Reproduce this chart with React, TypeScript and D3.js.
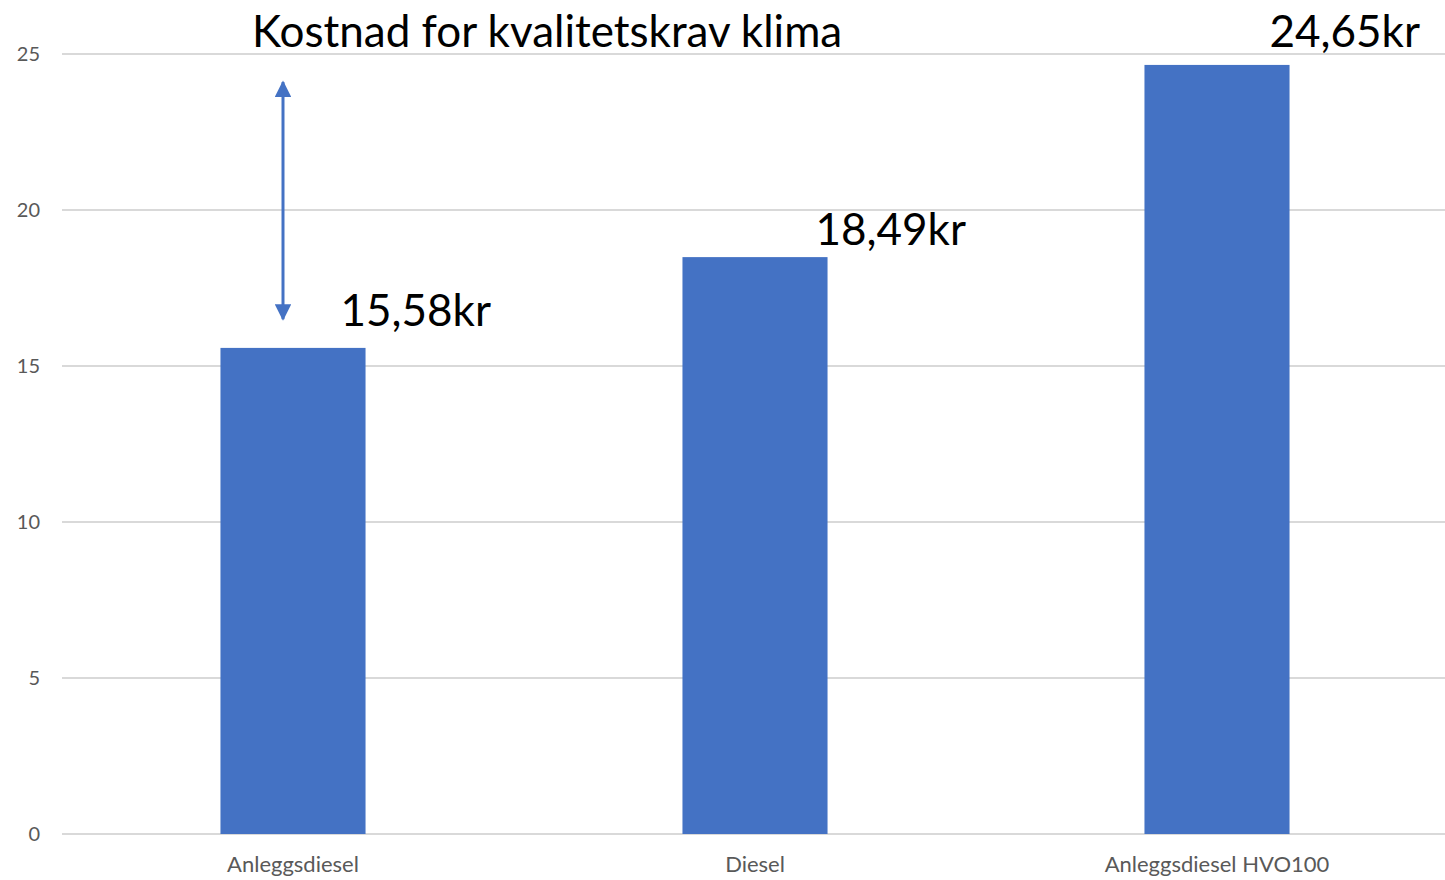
import React, { useEffect, useRef } from "react";
import * as d3 from "d3";

const categories = ["Anleggsdiesel", "Diesel", "Anleggsdiesel HVO100"];
const prices = [15.58, 18.49, 24.65];
const priceLabels = ["15,58kr", "18,49kr", "24,65kr"];
const yTicks = [0, 5, 10, 15, 20, 25];
const title = "Kostnad for kvalitetskrav klima";
// arrow spanning the gap between first bar and the top bar
const arrowSpan = [16.5, 24.1];

// labels were nudged by hand in the original, offsets from bar top-right corner
const labelDx = [-25, -12, -20];
const labelDy = [-22, -12, -18];

const W = 1445;
const H = 880;
const FONT = "Lato, 'Open Sans', sans-serif";

const App: React.FC = () => {
  const ref = useRef<SVGSVGElement>(null);

  useEffect(() => {
    const svg = d3.select(ref.current);
    svg.selectAll("*").remove();

    const margin = { top: 54, right: 0, bottom: 46, left: 62 };

    const x = d3
      .scaleBand<string>()
      .domain(categories)
      .range([margin.left, margin.left + 462 * 3])
      .paddingInner(0.686)
      .paddingOuter(0.343);

    const y = d3
      .scaleLinear()
      .domain([0, 25])
      .range([H - margin.bottom, margin.top]);

    // gridlines
    svg
      .append("g")
      .selectAll("line")
      .data(yTicks)
      .join("line")
      .attr("x1", margin.left)
      .attr("x2", W)
      .attr("y1", (d) => y(d))
      .attr("y2", (d) => y(d))
      .attr("stroke", "#d9d9d9")
      .attr("stroke-width", 2);

    svg
      .append("g")
      .attr("transform", `translate(${margin.left},0)`)
      .call(d3.axisLeft(y).tickValues(yTicks).tickSize(0).tickPadding(22))
      .call((g) => g.select(".domain").remove())
      .call((g) =>
        g
          .selectAll("text")
          .attr("fill", "#595959")
          .style("font-family", FONT)
          .style("font-size", "20px")
      );

    svg
      .append("g")
      .selectAll("rect")
      .data(prices)
      .join("rect")
      .attr("x", (_, i) => x(categories[i])!)
      .attr("width", x.bandwidth())
      .attr("y", (d) => y(d))
      .attr("height", (d) => y(0) - y(d))
      .attr("fill", "#4472c4");

    svg
      .append("g")
      .attr("transform", `translate(0,${H - margin.bottom})`)
      .call(d3.axisBottom(x).tickSize(0).tickPadding(22))
      .call((g) => g.select(".domain").remove())
      .call((g) =>
        g
          .selectAll("text")
          .attr("fill", "#595959")
          .style("font-family", FONT)
          .style("font-size", "22px")
      );

    // value labels
    svg
      .append("g")
      .selectAll("text")
      .data(prices)
      .join("text")
      .attr("x", (_, i) => x(categories[i])! + x.bandwidth() + labelDx[i])
      .attr("y", (d, i) => y(d) + labelDy[i])
      .attr("fill", "#000")
      .style("font-family", FONT)
      .style("font-size", "44px")
      .text((_, i) => priceLabels[i]);

    svg
      .append("text")
      .attr("x", 252)
      .attr("y", 47)
      .attr("fill", "#000")
      .style("font-family", FONT)
      .style("font-size", "44px")
      .text(title);

    // double-headed arrow
    const defs = svg.append("defs");
    defs
      .append("marker")
      .attr("id", "head")
      .attr("viewBox", "0 0 10 10")
      .attr("refX", 9)
      .attr("refY", 5)
      .attr("markerWidth", 5.5)
      .attr("markerHeight", 5.5)
      .attr("markerUnits", "strokeWidth")
      .attr("orient", "auto-start-reverse")
      .append("path")
      .attr("d", "M0,0L10,5L0,10Z")
      .attr("fill", "#4472c4");

    const ax = x(categories[0])! + x.bandwidth() / 2 - 10;
    svg
      .append("line")
      .attr("x1", ax)
      .attr("x2", ax)
      .attr("y1", y(arrowSpan[0]))
      .attr("y2", y(arrowSpan[1]))
      .attr("stroke", "#4472c4")
      .attr("stroke-width", 3)
      .attr("marker-start", "url(#head)")
      .attr("marker-end", "url(#head)");
  }, []);

  return (
    <svg
      ref={ref}
      width={W}
      height={H}
      viewBox={`0 0 ${W} ${H}`}
      style={{ position: "absolute", left: 0, top: 0, background: "#fff" }}
    />
  );
};

export default App;
